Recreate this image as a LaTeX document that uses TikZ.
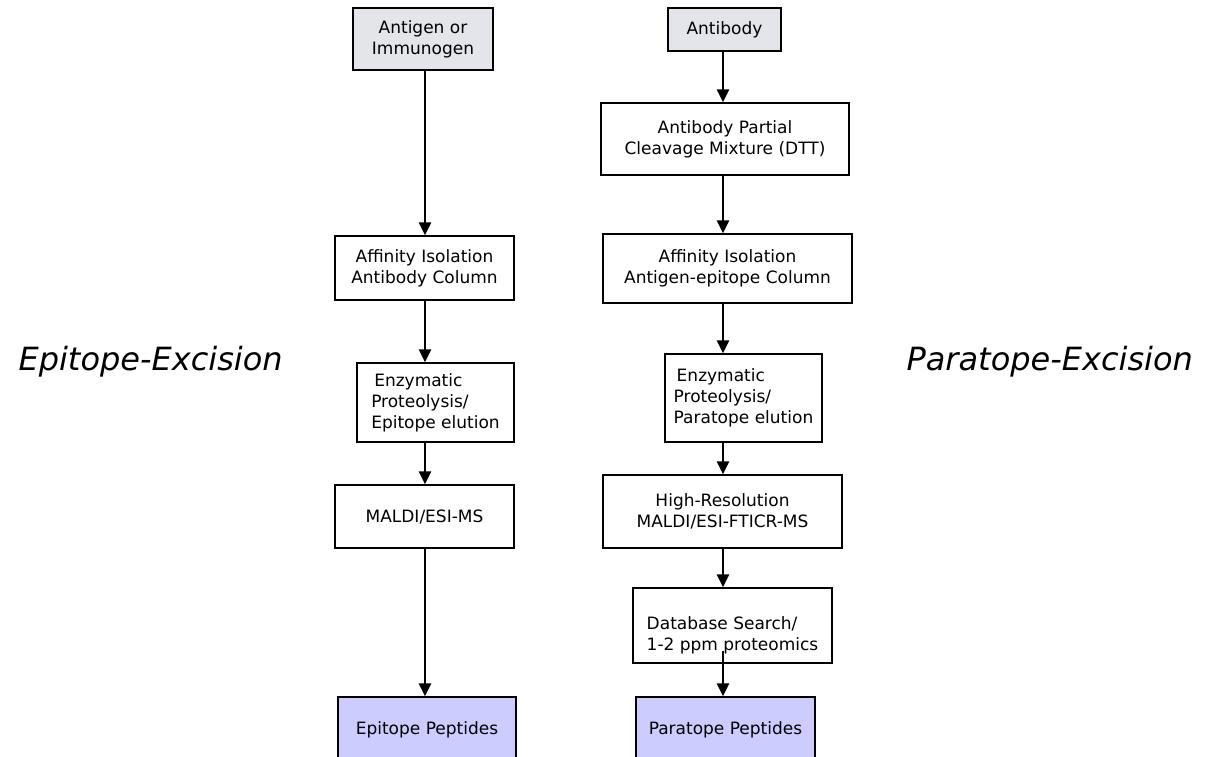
\documentclass[tikz,border=0pt]{standalone}
\usepackage{fontspec}
\setmainfont{DejaVu Sans}
\usepackage{tikz}
\usetikzlibrary{arrows.meta,calc}
\definecolor{startgray}{HTML}{E3E5EA}
\definecolor{peptide}{HTML}{CCCCFF}
\tikzset{stage/.style={rectangle, draw=black, line width=1.3pt, fill=white, inner sep=2pt, align=center, font=\fontsize{17}{21}\selectfont},
	flow/.style={line width=2.4pt, -{Triangle[length=13pt,width=12pt]}},
	route/.style={font=\fontsize{32}{38}\selectfont\itshape, anchor=base west}}

\begin{document}
\begin{tikzpicture}[x=1pt,y=-1pt]
		\useasboundingbox (0,0) rectangle (1205,756);
		\coordinate (lx) at (425,0);
		\coordinate (rx) at (723,0);
		% epitope side
		\node[stage, fill=startgray, minimum width=140pt, minimum height=62pt] (antigen) at (423,39) {Antigen or\\Immunogen};
		\node[stage, minimum width=179pt, minimum height=64pt] (affinityL) at (424.5,268) {Affinity Isolation\\Antibody Column};
		\node[stage, align=left, minimum width=157pt, minimum height=79pt] (enzymeL) at (435.5,402.5) {\hspace{3pt}Enzymatic\\Proteolysis/\\Epitope elution};
		\node[stage, minimum width=179pt, minimum height=63pt] (maldiL) at (424.5,516.5) {MALDI/ESI-MS};
		\node[stage, fill=peptide, minimum width=178pt, minimum height=65pt] (epitope) at (427,729.5) {Epitope Peptides};
		% paratope side
		\node[stage, fill=startgray, minimum width=113pt, minimum height=43pt] (antibody) at (724.5,29.5) {Antibody};
		\node[stage, minimum width=248pt, minimum height=72pt] (partial) at (725,139) {Antibody Partial\\Cleavage Mixture (DTT)};
		\node[stage, minimum width=249pt, minimum height=69pt] (affinityR) at (727.5,268.5) {Affinity Isolation\\Antigen-epitope Column};
		\node[stage, align=left, minimum width=157pt, minimum height=88pt] (enzymeR) at (743.5,398) {\hspace{3pt}Enzymatic\\Proteolysis/\\Paratope elution};
		\node[stage, minimum width=239pt, minimum height=73pt] (ftms) at (722.5,511.5) {High-Resolution\\MALDI/ESI-FTICR-MS};
		\node[stage, minimum width=199pt, minimum height=75pt] (search) at (732.5,625.5) {};
		\node[font=\fontsize{17}{21}\selectfont, align=left] (searchtext) at ([yshift=-10pt]search.center) {Database Search/\\1-2 ppm proteomics};
		\node[stage, fill=peptide, minimum width=179pt, minimum height=65pt] (paratope) at (725.5,729.5) {Paratope Peptides};
		% route labels
		\node[route] (epiroute) at (15,370) {Epitope-Excision};
		\node[route] (pararoute) at (903,370) {Paratope-Excision};
		% arrows
		\draw[flow] (antigen.south -| lx) -- (affinityL.north -| lx);
		\draw[flow] (affinityL.south -| lx) -- (enzymeL.north -| lx);
		\draw[flow] (enzymeL.south -| lx) -- (maldiL.north -| lx);
		\draw[flow] (maldiL.south -| lx) -- (epitope.north -| lx);
		\draw[flow] (antibody.south -| rx) -- (partial.north -| rx);
		\draw[flow] (partial.south -| rx) -- (affinityR.north -| rx);
		\draw[flow] (affinityR.south -| rx) -- (enzymeR.north -| rx);
		\draw[flow] (enzymeR.south -| rx) -- (ftms.north -| rx);
		\draw[flow] (ftms.south -| rx) -- (search.north -| rx);
		\draw[flow, shorten <=-13pt] (search.south -| rx) -- (paratope.north -| rx);
\end{tikzpicture}
\end{document}
